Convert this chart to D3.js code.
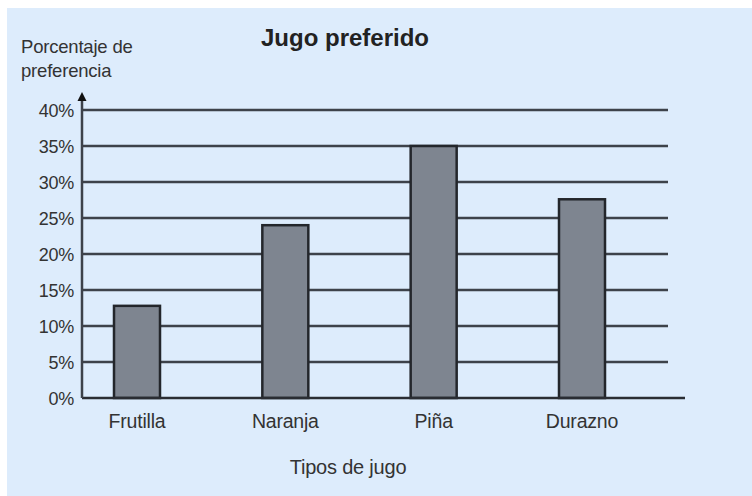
<!DOCTYPE html>
<html>
<head>
<meta charset="utf-8">
<script src="https://cdn.jsdelivr.net/npm/d3@7"></script>
<style>
  body { margin: 0; background: #fff; }
  text { font-family: "Liberation Sans", Arial, sans-serif; fill: #333; }
</style>
</head>
<body>
<div id="chart"></div>
<script>
const categories = ["Frutilla", "Naranja", "Piña", "Durazno"];
const values = [12.8, 24, 35, 27.6];
const yTicks = [0, 5, 10, 15, 20, 25, 30, 35, 40];

const width = 752, height = 496;
const svg = d3.select("#chart").append("svg")
  .attr("width", width)
  .attr("height", height);

svg.append("rect")
  .attr("x", 7).attr("y", 8)
  .attr("width", width - 7).attr("height", height - 8)
  .attr("fill", "#ddecfc");

const y = d3.scaleLinear().domain([0, 40]).range([398, 110]);
const x = d3.scalePoint().domain(categories).range([137, 582]);
const barW = 46;
const gridColor = "#3d424a";

// gridlines
svg.selectAll("line.grid")
  .data(yTicks.filter(d => d > 0))
  .enter().append("line")
  .attr("class", "grid")
  .attr("x1", 82).attr("x2", 668)
  .attr("y1", d => y(d)).attr("y2", d => y(d))
  .attr("stroke", gridColor)
  .style("stroke-width", "2.5px");

// tick labels
svg.selectAll("text.tick")
  .data(yTicks)
  .enter().append("text")
  .attr("class", "tick")
  .attr("x", 74)
  .attr("y", d => y(d) + 6.5)
  .attr("text-anchor", "end")
  .style("font-size", "18px")
  .style("letter-spacing", "-0.3px")
  .text(d => d + "%");

// bars
svg.selectAll("rect.bar")
  .data(values)
  .enter().append("rect")
  .attr("class", "bar")
  .attr("x", (d, i) => x(categories[i]) - barW / 2)
  .attr("y", d => y(d))
  .attr("width", barW)
  .attr("height", d => y(0) - y(d))
  .attr("fill", "#7e8590")
  .attr("stroke", "#23262b")
  .style("stroke-width", "2.5px");

// axes
svg.append("line")
  .attr("x1", 82).attr("x2", 685)
  .attr("y1", y(0)).attr("y2", y(0))
  .attr("stroke", "#2a2d33")
  .style("stroke-width", "2.5px");
svg.append("line")
  .attr("x1", 82).attr("x2", 82)
  .attr("y1", y(0)).attr("y2", 98)
  .attr("stroke", "#3d424a")
  .style("stroke-width", "2.5px");
svg.append("path")
  .attr("d", "M82,92 L77.5,101 L86.5,101 Z")
  .attr("fill", "#111");

// category labels
svg.selectAll("text.cat")
  .data(categories)
  .enter().append("text")
  .attr("class", "cat")
  .attr("x", d => x(d))
  .attr("y", 428)
  .attr("text-anchor", "middle")
  .style("font-size", "19.5px")
  .style("letter-spacing", "-0.2px")
  .text(d => d);

svg.append("text")
  .attr("x", 345).attr("y", 46)
  .attr("text-anchor", "middle")
  .style("font-size", "24px")
  .style("font-weight", "bold")
  .style("fill", "#222")
  .text("Jugo preferido");

svg.append("text")
  .attr("x", 21).attr("y", 53)
  .style("font-size", "18.5px")
  .style("letter-spacing", "-0.2px")
  .text("Porcentaje de");
svg.append("text")
  .attr("x", 21).attr("y", 77)
  .style("font-size", "18.5px")
  .style("letter-spacing", "-0.2px")
  .text("preferencia");

svg.append("text")
  .attr("x", 348).attr("y", 474)
  .attr("text-anchor", "middle")
  .style("font-size", "20px")
  .style("letter-spacing", "-0.2px")
  .text("Tipos de jugo");
</script>
</body>
</html>
